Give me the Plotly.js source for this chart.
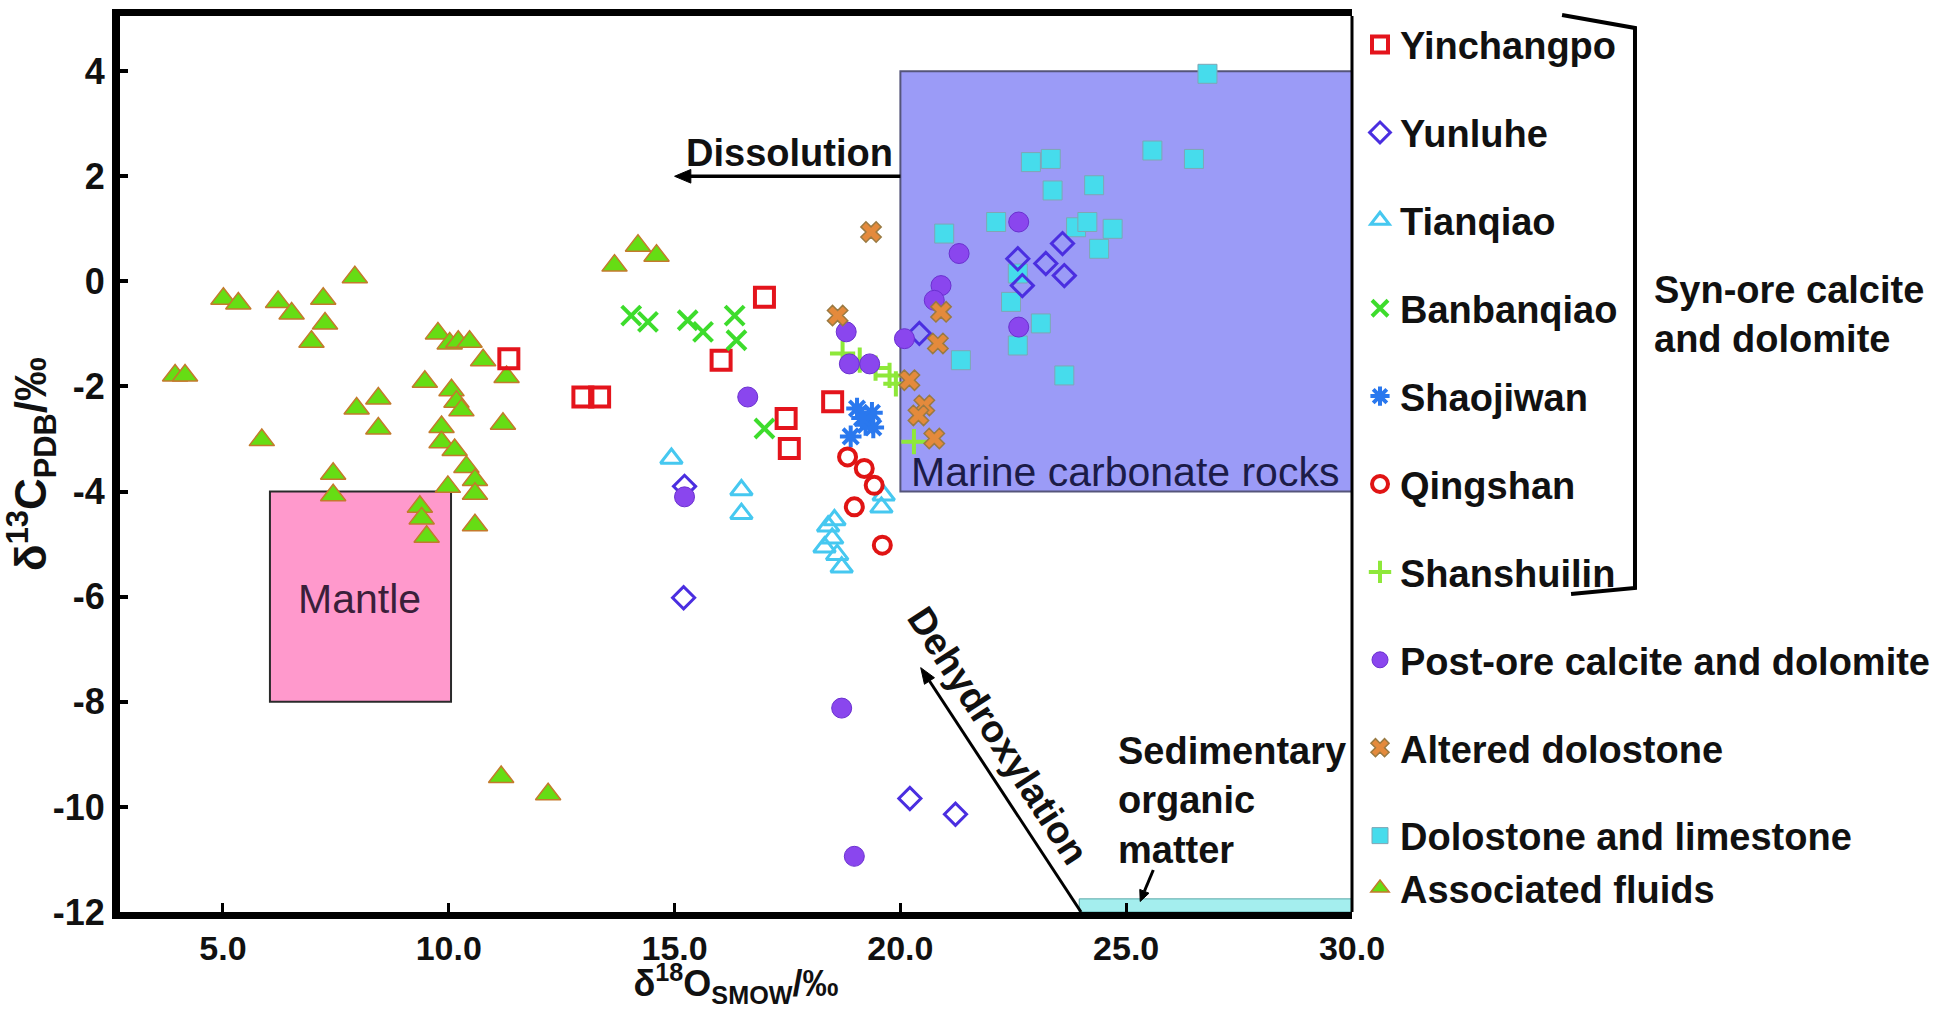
<!DOCTYPE html>
<html>
<head>
<meta charset="utf-8">
<script src="https://cdn.plot.ly/plotly-3.0.1.min.js"></script>
<style>
html,body{margin:0;padding:0;background:#fff;overflow:hidden;}
#chart{width:1940px;height:1009px;}
</style>
</head>
<body>
<div id="chart"></div>
<script>
// ---- data (δ18O SMOW ‰, δ13C PDB ‰) ----
const seriesNames = ["Yinchangpo","Yunluhe","Tianqiao","Banbanqiao","Shaojiwan","Qingshan","Shanshuilin",
  "Post-ore calcite and dolomite","Altered dolostone","Dolostone and limestone","Associated fluids"];

const yinchangpoX = [11.33, 12.97, 13.34, 16.03, 16.99, 17.47, 17.54, 18.50];
const yinchangpoY = [-1.47, -2.20, -2.20, -1.50, -0.30, -2.61, -3.18, -2.29];

const yunluheX = [15.22, 15.20, 20.21, 21.22, 22.60, 23.22, 23.63, 22.70, 23.59, 20.42];
const yunluheY = [-3.90, -6.02, -9.84, -10.14, 0.43, 0.34, 0.11, -0.08, 0.72, -0.99];

const tianqiaoX = [14.93, 16.48, 16.48, 18.40, 18.49, 18.32, 18.60, 18.70, 18.54, 19.58, 19.63];
const tianqiaoY = [-3.37, -3.97, -4.42, -4.66, -4.89, -5.06, -5.20, -5.44, -4.54, -4.30, -4.07];

const banbanqiaoX = [14.04, 14.41, 15.29, 15.63, 16.33, 16.37, 16.99];
const banbanqiaoY = [-0.65, -0.77, -0.74, -0.96, -0.65, -1.12, -2.80];

const shaojiwanX = [19.04, 19.23, 19.37, 18.90, 19.40, 19.15];
const shaojiwanY = [-2.42, -2.73, -2.50, -2.95, -2.78, -2.60];

const qingshanX = [18.83, 19.20, 19.42, 18.98, 19.60];
const qingshanY = [-3.34, -3.56, -3.88, -4.29, -5.02];

const shanshuilinX = [18.72, 19.10, 19.45, 19.76, 19.90, 20.30];
const shanshuilinY = [-1.37, -1.50, -1.65, -1.79, -1.95, -3.05];

const postOreX = [22.62, 21.30, 20.90, 20.75, 20.09, 22.62, 16.62, 15.22, 18.80, 18.87, 19.32, 18.70, 18.98];
const postOreY = [1.13, 0.53, -0.08, -0.36, -1.09, -0.87, -2.20, -4.10, -0.96, -1.57, -1.57, -8.12, -10.94];

const alteredX = [19.35, 18.61, 20.90, 20.83, 20.20, 20.53, 20.40, 20.75];
const alteredY = [0.94, -0.65, -0.58, -1.18, -1.88, -2.36, -2.55, -2.99];

const dolostoneX = [26.80, 25.58, 26.50, 22.89, 23.33, 23.37, 24.29, 22.12, 20.97, 23.89, 24.14, 24.70, 24.40, 22.60, 22.45, 23.11, 22.60, 21.34, 23.63];
const dolostoneY = [3.95, 2.49, 2.33, 2.27, 2.33, 1.73, 1.83, 1.13, 0.91, 1.03, 1.13, 1.00, 0.62, 0.15, -0.39, -0.80, -1.22, -1.50, -1.79];

const fluidsX = [3.94, 4.16, 5.01, 5.34, 6.22, 6.52, 7.22, 7.26, 6.96, 7.92, 5.86, 7.44, 7.44, 7.96, 8.44, 8.44, 9.47, 9.76, 10.02, 10.21, 10.46, 10.76, 11.28, 10.06, 10.17, 10.28, 9.84, 9.84, 10.13, 10.39, 10.58, 10.58, 9.98, 10.58, 11.20, 9.36, 9.40, 9.51, 11.16, 12.20, 13.67, 14.19, 14.60];
const fluidsY = [-1.79, -1.79, -0.33, -0.42, -0.39, -0.61, -0.33, -0.80, -1.15, 0.08, -3.02, -3.66, -4.07, -2.42, -2.23, -2.80, -1.91, -0.99, -1.18, -1.15, -1.15, -1.50, -1.82, -2.07, -2.29, -2.45, -2.77, -3.06, -3.21, -3.53, -3.78, -4.04, -3.91, -4.64, -2.71, -4.29, -4.51, -4.86, -9.43, -9.76, 0.30, 0.68, 0.49];

const xTickVals = [5, 10, 15, 20, 25, 30];
const xTickText = ["5.0", "10.0", "15.0", "20.0", "25.0", "30.0"];
const yTickVals = [-12, -10, -8, -6, -4, -2, 0, 2, 4];
const yTickText = ["-12", "-10", "-8", "-6", "-4", "-2", "0", "2", "4"];

// ---- styling ----
const FONT = "Liberation Sans, Arial, Helvetica, sans-serif";

function tr(i, xs, ys, marker, group) {
  return {
    type: "scatter", mode: "markers", name: seriesNames[i], x: xs, y: ys,
    marker: marker, legendrank: i + 1, legendgroup: group || ("g" + i),
    hoverinfo: "x+y+name", cliponaxis: false
  };
}

const traces = [
  tr(9, dolostoneX, dolostoneY, {symbol: "square", size: 19, color: "#46dcec", line: {color: "#7fa6b4", width: 1}}, "gLast"),
  tr(10, fluidsX, fluidsY, {symbol: "triangle-up", size: 22, color: "#66dd14", line: {color: "#c47a2c", width: 1.5}}, "gLast"),
  tr(0, yinchangpoX, yinchangpoY, {symbol: "square-open", size: 19, color: "#e4141c", line: {width: 4}}),
  tr(1, yunluheX, yunluheY, {symbol: "diamond-open", size: 17, color: "#4a2ee0", line: {width: 3}}),
  tr(2, tianqiaoX, tianqiaoY, {symbol: "triangle-up-open", size: 19, color: "#46c8f0", line: {width: 3}}),
  tr(3, banbanqiaoX, banbanqiaoY, {symbol: "x-thin-open", size: 19, color: "#3ddc2c", line: {width: 4}}),
  tr(4, shaojiwanX, shaojiwanY, {symbol: "asterisk-open", size: 18, color: "#2a78ee", line: {width: 4}}),
  tr(5, qingshanX, qingshanY, {symbol: "circle-open", size: 17, color: "#e01414", line: {width: 4}}),
  tr(6, shanshuilinX, shanshuilinY, {symbol: "cross-thin-open", size: 18, color: "#8ee83a", line: {width: 4}}),
  tr(7, postOreX, postOreY, {symbol: "circle", size: 20, color: "#8a46ee", line: {color: "#6a30d0", width: 1}}),
  tr(8, alteredX, alteredY, {symbol: "x", size: 18, color: "#e48a3c", line: {color: "#9a7a42", width: 1.5}})
];

const layout = {
  width: 1940, height: 1009,
  paper_bgcolor: "#ffffff", plot_bgcolor: "#ffffff",
  margin: {l: 120, r: 588, t: 16, b: 97, autoexpand: false},
  font: {family: FONT, color: "#111", size: 36, weight: "bold"},
  showlegend: true,
  legend: {
    x: 1.0065, xanchor: "left", y: 1.003, yanchor: "top",
    font: {family: FONT, size: 38, color: "#111", weight: "bold"},
    bgcolor: "rgba(0,0,0,0)", borderwidth: 0,
    traceorder: "grouped", tracegroupgap: 35.5, itemwidth: 30, maxheight: 1009
  },
  xaxis: {
    range: [2.72, 30], tickvals: xTickVals, ticktext: xTickText,
    ticks: "inside", ticklen: 9, tickwidth: 3, tickcolor: "#000",
    showline: true, linewidth: 7, linecolor: "#000", mirror: true,
    showgrid: false, zeroline: false,
    tickfont: {family: FONT, size: 34, color: "#111", weight: "bold"},
    title: {text: "δ<sup>18</sup>O<sub>SMOW</sub>/‰", font: {family: FONT, size: 36, color: "#111", weight: "bold"}, standoff: 12}
  },
  yaxis: {
    range: [-12, 5.05], tickvals: yTickVals, ticktext: yTickText,
    ticks: "inside", ticklen: 8, tickwidth: 4, tickcolor: "#000",
    showline: true, linewidth: 8, linecolor: "#000", mirror: false,
    showgrid: false, zeroline: false,
    tickfont: {family: FONT, size: 36, color: "#111", weight: "bold"},
    title: {text: "δ<sup>13</sup>C<sub>PDB</sub>/‰", font: {family: FONT, size: 44, color: "#111", weight: "bold"}, standoff: 4}
  },
  shapes: [
    {type: "rect", xref: "x", yref: "y", x0: 20, x1: 30, y0: -4, y1: 4, layer: "below",
     fillcolor: "#9b9bf7", line: {color: "#55557a", width: 2}},
    {type: "rect", xref: "x", yref: "y", x0: 6.04, x1: 10.05, y0: -8, y1: -4, layer: "below",
     fillcolor: "#ff99cc", line: {color: "#2a2a2a", width: 2}},
    {type: "rect", xref: "x", yref: "y", x0: 23.96, x1: 30, y0: -12, y1: -11.75, layer: "below",
     fillcolor: "#a4eeee", line: {color: "#5aa8a8", width: 1}},
    // right frame line
    {type: "line", xref: "paper", yref: "paper", x0: 1, x1: 1, y0: 0, y1: 1, line: {color: "#000", width: 3}},
    // Syn-ore bracket
    {type: "path", xref: "paper", yref: "paper",
     path: "M 1.1705 1.0011 L 1.2297 0.9866 L 1.2297 0.3616 L 1.1778 0.3549",
     line: {color: "#000", width: 4}},
    // Dissolution arrow
    {type: "line", xref: "x", yref: "y", x0: 20.0, y0: 2.0, x1: 15.3, y1: 2.0, line: {color: "#000", width: 3.5}},
    {type: "path", xref: "x", yref: "y", path: "M 15 2 L 15.36 2.13 L 15.36 1.87 Z",
     fillcolor: "#000", line: {color: "#000", width: 1}},
    // Dehydroxylation arrow
    {type: "line", xref: "x", yref: "y", x0: 24.0, y0: -12.0, x1: 20.644, y1: -7.604, line: {color: "#000", width: 3}},
    {type: "path", xref: "x", yref: "y", path: "M 20.45 -7.35 L 20.755 -7.542 L 20.533 -7.667 Z",
     fillcolor: "#000", line: {color: "#000", width: 1}},
    // Sedimentary organic matter arrow
    {type: "line", xref: "x", yref: "y", x0: 25.6, y0: -11.2, x1: 25.403, y1: -11.606, line: {color: "#000", width: 3}},
    {type: "path", xref: "x", yref: "y", path: "M 25.31 -11.8 L 25.505 -11.642 L 25.301 -11.57 Z",
     fillcolor: "#000", line: {color: "#000", width: 1}}
  ],
  annotations: [
    {xref: "x", yref: "y", x: 20.2, y: -3.62, xanchor: "left", yanchor: "middle", showarrow: false,
     text: "Marine carbonate rocks", font: {family: FONT, size: 41, color: "#1c1c48", weight: "normal"}},
    {xref: "x", yref: "y", x: 8.03, y: -6.05, xanchor: "center", yanchor: "middle", showarrow: false,
     text: "Mantle", font: {family: FONT, size: 41, color: "#3a1f3a", weight: "normal"}},
    {xref: "x", yref: "y", x: 17.54, y: 2.0, xanchor: "center", yanchor: "bottom", showarrow: false,
     text: "Dissolution", font: {family: FONT, size: 38, color: "#111", weight: "bold"}},
    {xref: "x", yref: "y", x: 22.17, y: -8.65, xanchor: "center", yanchor: "middle", showarrow: false,
     textangle: 57, text: "Dehydroxylation", font: {family: FONT, size: 38, color: "#111", weight: "bold"}},
    {xref: "x", yref: "y", x: 24.78, y: -9.87, xanchor: "left", yanchor: "middle", align: "left", showarrow: false,
     text: "Sedimentary<br>organic<br>matter", font: {family: FONT, size: 38, color: "#111", weight: "bold"}},
    {xref: "paper", yref: "paper", x: 1.2435, y: 0.6674, xanchor: "left", yanchor: "middle", align: "left", showarrow: false,
     text: "Syn-ore calcite<br>and dolomite", font: {family: FONT, size: 38, color: "#111", weight: "bold"}}
  ]
};

Plotly.newPlot("chart", traces, layout, {displayModeBar: false, responsive: false});
</script>
</body>
</html>
